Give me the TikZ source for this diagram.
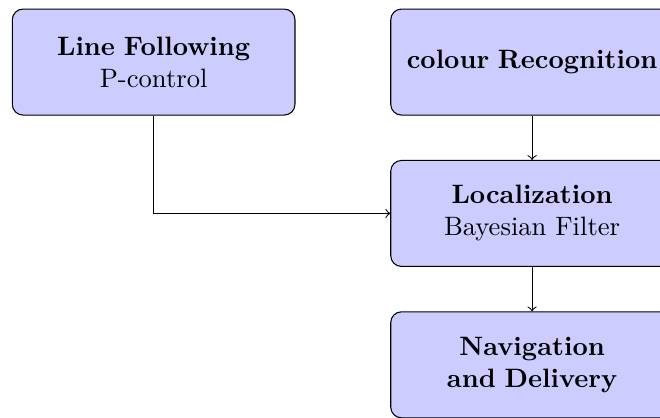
\documentclass[tikz,border=0pt]{standalone}
\usepackage{tikz}
\usetikzlibrary{positioning}

\begin{document}
\begin{tikzpicture}[->,node distance=2cm,on grid,
    block/.style={draw,rounded corners,fill=blue!20,text width=3.5cm,align=center,minimum height=1.4cm}]
   \useasboundingbox (-2.03,0.82) rectangle (6.69,-4.69);
   \node[block] (line) {\textbf{Line Following}\\P-control};
   \node[block] (colour) [right=5cm of line] {\textbf{colour Recognition}};
   \node[block] (loc) [below=of colour] {\textbf{Localization}\\Bayesian Filter};
   \node[block] (nav) [below=of loc] {\textbf{Navigation and Delivery}};
    \draw (line) |- (loc);
    \draw (colour) -- (loc);
    \draw (loc) -- (nav);
\end{tikzpicture}
\end{document}
